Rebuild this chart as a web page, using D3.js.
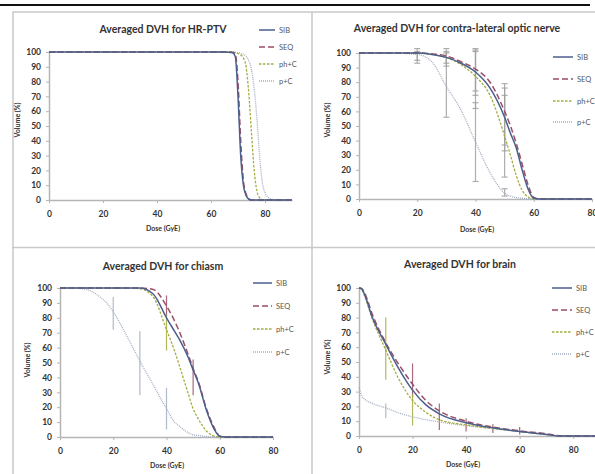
<!DOCTYPE html>
<html>
<head>
<meta charset="utf-8">
<script src="https://cdn.jsdelivr.net/npm/d3@7"></script>
<style>
  body { margin: 0; background: #fff; }
  svg { display: block; font-family: Lato, "Open Sans", sans-serif; }
</style>
</head>
<body>
<svg id="chart" width="595" height="474"></svg>
<script>
// ---------------- data ----------------
var seriesNames = ["SIB", "SEQ", "ph+C", "p+C"];
var doseTicks = [0, 20, 40, 60, 80];
var volumeTicks = [0, 10, 20, 30, 40, 50, 60, 70, 80, 90, 100];

// HR-PTV
var ptvDose = [0, 20, 40, 60, 65, 68, 69, 70, 71, 72, 73, 74, 75, 76, 77, 78, 79, 80, 81, 82, 83, 84, 90];
var ptvSIB  = [100, 100, 100, 100, 100, 99.5, 97, 70, 30, 10, 3, 0.5, 0, 0, 0, 0, 0, 0, 0, 0, 0, 0, 0];
var ptvSEQ  = [100, 100, 100, 100, 100, 99.8, 98.5, 80, 40, 13, 4, 1, 0, 0, 0, 0, 0, 0, 0, 0, 0, 0, 0];
var ptvPhC  = [100, 100, 100, 100, 100, 100, 99.5, 99, 98, 96, 90, 72, 45, 20, 6, 1.5, 0.3, 0, 0, 0, 0, 0, 0];
var ptvPC   = [100, 100, 100, 100, 100, 100, 99.8, 99.5, 99, 98.5, 97, 94, 88, 75, 55, 30, 12, 5, 2, 1, 0.3, 0, 0];

// contra-lateral optic nerve
var opticDose = [0, 10, 20, 25, 30, 35, 40, 45, 50, 52, 54, 56, 58, 60, 62, 80];
var opticSIB  = [100, 100, 100, 99, 97, 93, 87, 76, 56, 45, 35, 20, 7, 0.5, 0, 0];
var opticSEQ  = [100, 100, 100, 99.5, 98, 94, 89, 80, 60, 50, 38, 24, 10, 1, 0, 0];
var opticPhC  = [100, 100, 100, 99, 97, 92, 84, 71, 43, 30, 16, 6, 1.5, 0, 0, 0];
var opticPC   = [100, 100, 99, 94, 77, 61, 39, 18, 4, 2, 1, 0.5, 0.2, 0, 0, 0];
var opticErrSeries = ["p+C", "SIB", "p+C", "SIB", "ph+C", "SIB", "SEQ", "ph+C", "p+C", "SIB", "SEQ", "ph+C", "p+C"];
var opticErrDose   = [20, 20, 30, 30, 30, 40, 40, 40, 40, 50, 50, 50, 50];
var opticErrLow    = [93, 95, 56, 91, 93, 71, 74, 62, 12, 33, 37, 15, 2];
var opticErrHigh   = [101, 103, 100, 103, 101, 103, 102, 101, 66, 79, 76, 71, 7];

// chiasm
var chiasmDose = [0, 5, 10, 15, 18, 20, 25, 30, 35, 40, 43, 45, 48, 50, 52, 55, 58, 60, 62, 80];
var chiasmSIB  = [100, 100, 100, 100, 100, 100, 100, 100, 96, 80, 71, 65, 54, 45, 36, 18, 5, 0.5, 0, 0];
var chiasmSEQ  = [100, 100, 100, 100, 100, 100, 100, 100, 99, 88, 78, 70, 56, 46, 37, 19, 6, 0.5, 0, 0];
var chiasmPhC  = [100, 100, 100, 100, 100, 100, 100, 99.5, 94, 72, 58, 47, 30, 19, 12, 4, 0.5, 0, 0, 0];
var chiasmPC   = [100, 100, 99, 94, 89, 84, 68, 51, 35, 19, 10, 7, 3, 1.5, 1, 0.3, 0, 0, 0, 0];
var chiasmErrSeries = ["p+C", "p+C", "p+C", "SEQ", "ph+C", "SEQ"];
var chiasmErrDose   = [20, 30, 40, 40, 40, 50];
var chiasmErrLow    = [72, 28, 5, 81, 58, 28];
var chiasmErrHigh   = [94, 71, 33, 95, 82, 52];

// brain
var brainDose = [0, 1, 2, 5, 10, 15, 20, 25, 30, 40, 50, 60, 70, 75, 80, 90];
var brainSIB  = [100, 99.5, 96, 80, 62, 45, 31, 21, 15, 9, 5.5, 3, 1, 0, 0, 0];
var brainSEQ  = [100, 99.5, 97, 82, 63, 48, 35, 24, 17, 10, 6, 3.5, 1.5, 0.2, 0, 0];
var brainPhC  = [100, 99, 95, 79, 58, 38, 24, 16, 11, 7.5, 5, 3, 1, 0, 0, 0];
var brainPC   = [33, 27, 25, 22, 19, 15.5, 13, 11, 9.5, 7, 5, 3, 1, 0.3, 0, 0];
var brainErrSeries = ["ph+C", "p+C", "SEQ", "ph+C", "SEQ", "SEQ", "SEQ", "SEQ"];
var brainErrDose   = [10, 10, 20, 20, 30, 40, 50, 60];
var brainErrLow    = [38, 12, 26, 7, 4, 3, 2, 1];
var brainErrHigh   = [80, 22, 49, 28, 22, 12, 8, 6];

// ---------------- styles ----------------
var seriesStyle = {
  "SIB":  {color: "#4b5f8c", width: 1.5, dash: null},
  "SEQ":  {color: "#9b4e66", width: 1.5, dash: "6,3"},
  "ph+C": {color: "#a4ad3f", width: 1.3, dash: "2.5,1.5"},
  "p+C":  {color: "#a3afc2", width: 1.3, dash: "1,1"}
};

var panels = [
  {
    title: "Averaged DVH for HR-PTV", titleX: 163, titleY: 33,
    xMax: 90, xRange: [49, 292], yRange: [200, 52],
    dose: ptvDose, values: [ptvSIB, ptvSEQ, ptvPhC, ptvPC],
    clip: [13, 12, 287, 235],
    doseLabelX: 163, doseLabelY: 231, volLabelX: 18, volLabelY: 120,
    legendX: 259, legendY: [30, 47, 64, 81], legendLen: 16
  },
  {
    title: "Averaged DVH for contra-lateral optic nerve", titleX: 457, titleY: 32,
    xMax: 80, xRange: [359, 592], yRange: [199, 53],
    dose: opticDose, values: [opticSIB, opticSEQ, opticPhC, opticPC],
    err: {series: opticErrSeries, dose: opticErrDose, low: opticErrLow, high: opticErrHigh, caps: true},
    clip: [312, 12, 290, 235],
    doseLabelX: 477, doseLabelY: 232, volLabelX: 328, volLabelY: 120,
    legendX: 553, legendY: [57, 79, 101, 122], legendLen: 20
  },
  {
    title: "Averaged DVH for chiasm", titleX: 163, titleY: 270,
    xMax: 80, xRange: [60, 273], yRange: [437, 288],
    dose: chiasmDose, values: [chiasmSIB, chiasmSEQ, chiasmPhC, chiasmPC],
    err: {series: chiasmErrSeries, dose: chiasmErrDose, low: chiasmErrLow, high: chiasmErrHigh, caps: false},
    clip: [12, 248, 300, 230],
    doseLabelX: 167, doseLabelY: 468, volLabelX: 28, volLabelY: 360,
    legendX: 253, legendY: [283, 306, 329, 352], legendLen: 19
  },
  {
    title: "Averaged DVH for brain", titleX: 460, titleY: 268,
    xMax: 90, xRange: [359, 600], yRange: [436, 288],
    dose: brainDose, values: [brainSIB, brainSEQ, brainPhC, brainPC],
    err: {series: brainErrSeries, dose: brainErrDose, low: brainErrLow, high: brainErrHigh, caps: false},
    clip: [312, 248, 290, 230],
    doseLabelX: 463, doseLabelY: 467, volLabelX: 328, volLabelY: 357,
    legendX: 552, legendY: [288, 310, 332, 354], legendLen: 20
  }
];

var svg = d3.select("#chart");

// black rule at the very top
svg.append("line")
  .attr("x1", 0).attr("x2", 590).attr("y1", 5).attr("y2", 5)
  .attr("stroke", "#111").attr("stroke-width", 2);

// panel frames
svg.append("path")
  .attr("d", "M13,475V12H600M312,12V474M12,247.5H600")
  .attr("fill", "none").attr("stroke", "#c9c9c9").attr("stroke-width", 1.5);

panels.forEach(function (p, i) {
  var x = d3.scaleLinear().domain([0, p.xMax]).range(p.xRange);
  var y = d3.scaleLinear().domain([0, 100]).range(p.yRange);

  svg.append("clipPath").attr("id", "clip" + i)
    .append("rect")
    .attr("x", p.clip[0]).attr("y", p.clip[1])
    .attr("width", p.clip[2]).attr("height", p.clip[3]);

  var g = svg.append("g").attr("clip-path", "url(#clip" + i + ")");

  // title
  g.append("text")
    .attr("x", p.titleX).attr("y", p.titleY)
    .attr("text-anchor", "middle")
    .attr("font-size", 10.5).attr("font-weight", "bold").attr("fill", "#333")
    .text(p.title);

  // axes
  var xAxis = g.append("g")
    .attr("transform", "translate(0," + p.yRange[0] + ")")
    .call(d3.axisBottom(x).tickValues(doseTicks).tickSize(3).tickSizeOuter(0));
  var yAxis = g.append("g")
    .attr("transform", "translate(" + p.xRange[0] + ",0)")
    .call(d3.axisLeft(y).tickValues(volumeTicks).tickSize(3).tickSizeOuter(0));

  [xAxis, yAxis].forEach(function (a) {
    a.select(".domain").attr("stroke", "#b5b5b5").attr("stroke-width", 1.5);
    a.selectAll(".tick line").attr("stroke", "#b5b5b5");
    a.selectAll(".tick text")
      .attr("fill", "#333").attr("font-weight", "bold")
      .attr("font-size", 8.5).attr("font-family", "Lato, sans-serif");
  });
  xAxis.selectAll(".tick text").attr("dy", "1.25em");
  yAxis.selectAll(".tick text").attr("x", -8);

  // axis titles
  g.append("text")
    .attr("x", p.doseLabelX).attr("y", p.doseLabelY)
    .attr("text-anchor", "middle")
    .attr("font-size", 7).attr("font-weight", "bold").attr("fill", "#333")
    .text("Dose (GyE)");
  g.append("text")
    .attr("transform", "translate(" + p.volLabelX + "," + p.volLabelY + ") rotate(-90)")
    .attr("text-anchor", "middle").attr("dy", "0.35em")
    .attr("font-size", 7).attr("font-weight", "bold").attr("fill", "#333")
    .text("Volume (%)");

  // error bars
  if (p.err) {
    var e = p.err;
    var capW = 3;
    e.dose.forEach(function (d, k) {
      var col = e.caps ? "#a0a0a0" : seriesStyle[e.series[k]].color;
      var eg = g.append("g").attr("stroke", col).attr("stroke-width", 1.2).attr("opacity", 0.85);
      eg.append("line")
        .attr("x1", x(d)).attr("x2", x(d))
        .attr("y1", y(e.low[k])).attr("y2", y(e.high[k]));
      if (e.caps) {
        [e.low[k], e.high[k]].forEach(function (v) {
          eg.append("line")
            .attr("x1", x(d) - capW).attr("x2", x(d) + capW)
            .attr("y1", y(v)).attr("y2", y(v));
        });
      }
    });
  }

  // curves, drawn back to front
  var line = d3.line()
    .x(function (d) { return x(d[0]); })
    .y(function (d) { return y(d[1]); })
    .curve(d3.curveMonotoneX);

  [3, 2, 1, 0].forEach(function (s) {
    var st = seriesStyle[seriesNames[s]];
    var pts = p.dose.map(function (d, k) { return [d, p.values[s][k]]; });
    g.append("path")
      .datum(pts)
      .attr("fill", "none")
      .attr("stroke", st.color)
      .attr("stroke-width", st.width)
      .attr("stroke-dasharray", st.dash)
      .attr("d", line);
  });

  // legend
  seriesNames.forEach(function (name, s) {
    var st = seriesStyle[name];
    var ly = p.legendY[s];
    g.append("line")
      .attr("x1", p.legendX).attr("x2", p.legendX + p.legendLen)
      .attr("y1", ly).attr("y2", ly)
      .attr("stroke", st.color).attr("stroke-width", st.width)
      .attr("stroke-dasharray", st.dash);
    g.append("text")
      .attr("x", p.legendX + p.legendLen + 4).attr("y", ly)
      .attr("dy", "0.35em")
      .attr("font-size", 7.5).attr("fill", "#555")
      .text(name);
  });
});
</script>
</body>
</html>
